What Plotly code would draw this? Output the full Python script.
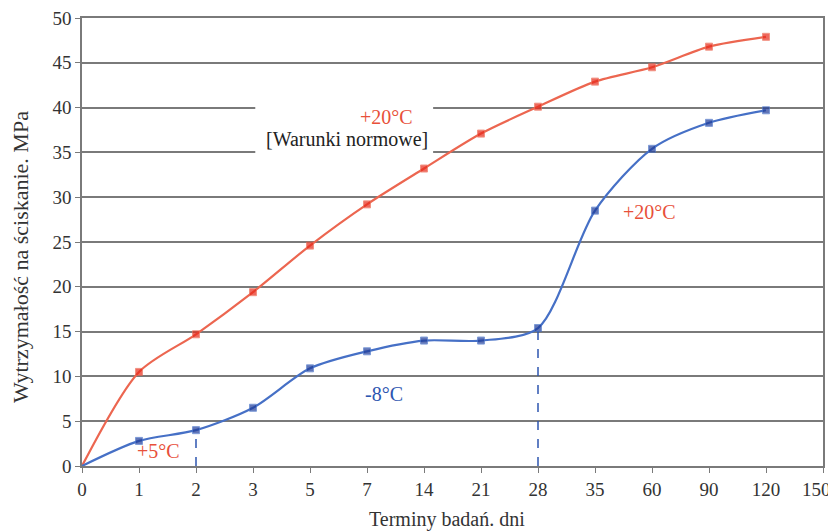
import plotly.graph_objects as go

days = ["0", "1", "2", "3", "5", "7", "14", "21", "28", "35", "60", "90", "120"]
tick_labels = ["0", "1", "2", "3", "5", "7", "14", "21", "28", "35", "60", "90", "120", "150"]
red_vals = [0, 10.5, 14.7, 19.4, 24.6, 29.2, 33.2, 37.1, 40.1, 42.9, 44.5, 46.8, 47.9]
blue_vals = [0, 2.8, 4.0, 6.5, 10.9, 12.8, 14.0, 14.0, 15.4, 28.5, 35.4, 38.3, 39.7]
dash_days = ["2", "28"]

RED = "#e8503a"
BLUE = "#2e56b0"
GRID = "#7a7a7a"
FONT = "Liberation Serif"

xpos = {d: i for i, d in enumerate(tick_labels)}
xs = [xpos[d] for d in days]
msize = [0] + [7] * (len(days) - 1)
# the last label is drawn as a right-anchored annotation so it stays inside the page edge
ticktext = tick_labels[:-1] + [""]

fig = go.Figure()
for d in dash_days:
    i = days.index(d)
    fig.add_trace(go.Scatter(x=[xs[i], xs[i]], y=[0, blue_vals[i]], mode="lines",
                             line=dict(color=BLUE, width=1.5, dash="dash"),
                             showlegend=False, hoverinfo="skip"))
fig.add_trace(go.Scatter(x=xs, y=red_vals, mode="lines+markers",
                         line=dict(color="#ec6650", width=2.2, shape="spline", smoothing=0.8),
                         marker=dict(symbol="square", size=msize, color="#e8291a"),
                         showlegend=False))
fig.add_trace(go.Scatter(x=xs, y=blue_vals, mode="lines+markers",
                         line=dict(color="#4670c6", width=2.2, shape="spline", smoothing=0.8),
                         marker=dict(symbol="square", size=msize, color="#1f3c99"),
                         showlegend=False))

# white box behind the annotation text (interrupts gridlines)
fig.add_shape(type="rect", xref="x", yref="y", x0=3.04, x1=6.16, y0=33.5, y1=41.5,
              fillcolor="white", line=dict(width=0), layer="between")

ann = [
    (1.35, 1.7, "+5°C", RED),
    (5.3, 8.0, "-8°C", BLUE),
    (9.95, 28.3, "+20°C", RED),
    (5.35, 39.0, "+20°C", RED),
    (4.65, 36.5, "[Warunki normowe]", "#222222"),
]
for x, y, t, c in ann:
    fig.add_annotation(x=x, y=y, text=t, showarrow=False,
                       font=dict(family=FONT, size=20, color=c))

# last x tick label
fig.add_annotation(xref="x", yref="paper", x=len(tick_labels) - 1, y=0, xshift=10, yshift=-23,
                   text=tick_labels[-1], showarrow=False, xanchor="right", yanchor="middle",
                   font=dict(family=FONT, size=19, color="#333333"))

# axis titles
fig.add_annotation(xref="paper", yref="paper", x=0, y=0.4665, xshift=-62,
                   text="Wytrzymałość na ściskanie. MPa", textangle=-90, showarrow=False,
                   xanchor="center", yanchor="middle",
                   font=dict(family=FONT, size=22, color="#333333"))
fig.add_annotation(xref="paper", yref="paper", x=0.4926, y=0, yshift=-53,
                   text="Terminy badań. dni", showarrow=False,
                   xanchor="center", yanchor="middle",
                   font=dict(family=FONT, size=20, color="#333333"))

fig.update_layout(
    width=828, height=523,
    margin=dict(l=74, r=13, t=10, b=65),
    paper_bgcolor="white", plot_bgcolor="white",
    font=dict(family=FONT, size=19, color="#333333"),
    xaxis=dict(range=[0, 13], tickvals=list(range(len(tick_labels))), ticktext=ticktext,
               showgrid=False, zeroline=False, showline=True, linecolor=GRID, linewidth=1.5,
               mirror=True, ticks="outside", ticklen=5, tickcolor=GRID, automargin=False,
               ticklabeloverflow="allow",
               tickfont=dict(family=FONT, size=19, color="#333333")),
    yaxis=dict(range=[0, 50], dtick=5, showgrid=True, gridcolor=GRID, gridwidth=1.5,
               zeroline=False, showline=True, linecolor=GRID, linewidth=1.5, mirror=True,
               ticks="outside", ticklen=5, tickcolor=GRID, automargin=False,
               ticklabeloverflow="allow",
               tickfont=dict(family=FONT, size=19, color="#333333")),
)

fig.write_html("out.html")
